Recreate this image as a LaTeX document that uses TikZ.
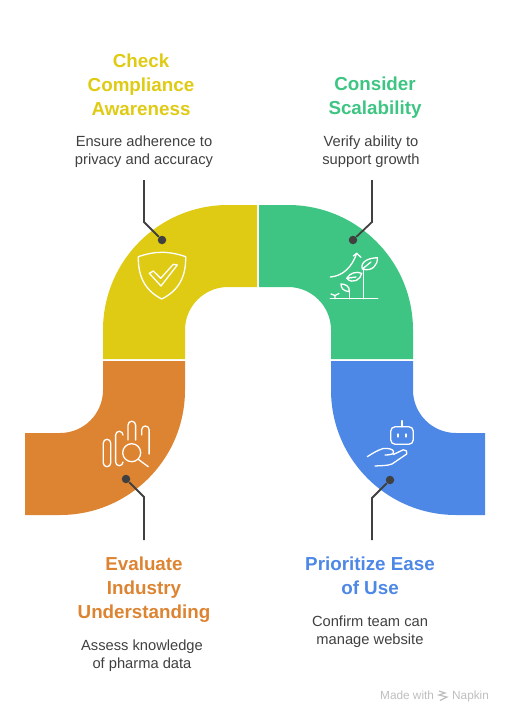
\documentclass[tikz,border=0pt]{standalone}
\usepackage{fontspec}
\setmainfont{Liberation Sans}
\usetikzlibrary{positioning}
\definecolor{capyellow}{RGB}{223,203,20}
\definecolor{capgreen}{RGB}{62,197,131}
\definecolor{caporange}{RGB}{221,132,50}
\definecolor{capblue}{RGB}{77,136,230}
\definecolor{inkgray}{RGB}{64,64,64}
\definecolor{markgray}{RGB}{190,190,190}
\begin{document}
\begin{tikzpicture}[x=1pt, y=-1pt,
  title/.style={align=center, inner sep=0pt, font=\bfseries\fontsize{18.8}{24}\selectfont},
  desc/.style={align=center, inner sep=0pt, text=inkgray, font=\fontsize{14.7}{18}\selectfont},
  dot/.style={circle, fill=inkgray, inner sep=0pt, minimum size=8.5pt},
  lead/.style={draw=inkgray, line width=1.8pt},
  icon/.style={draw=white, line width=1.3pt, line cap=round, line join=round},
  foot/.style={inner sep=0pt, text=markgray, font=\fontsize{11.8}{13}\selectfont}]
\useasboundingbox (0,0) rectangle (510,720);
\fill[capyellow] (257,205) -- (228,205) arc[start angle=90, end angle=180, radius=125pt] -- (103,359) -- (185,359) -- (185,330) arc[start angle=180, end angle=90, radius=43pt] -- (257,287) -- cycle;
\fill[capgreen] (259,205) -- (288,205) arc[start angle=90, end angle=0, radius=125pt] -- (413,359) -- (331,359) -- (331,330) arc[start angle=0, end angle=90, radius=43pt] -- (259,287) -- cycle;
\fill[caporange] (103,361) -- (103,390) arc[start angle=0, end angle=-90, radius=43pt] -- (25,433) -- (25,515) -- (60,515) arc[start angle=-90, end angle=0, radius=125pt] -- (185,361) -- cycle;
\fill[capblue] (413,361) -- (413,390) arc[start angle=180, end angle=270, radius=43pt] -- (485,433) -- (485,515) -- (456,515) arc[start angle=270, end angle=180, radius=125pt] -- (331,361) -- cycle;
% titles and texts
\node[title, text=capyellow] (check) at (141,85) {Check\\Compliance\\Awareness};
\node[desc, below=20pt of check, xshift=3pt] (checktxt) {Ensure adherence to\\privacy and accuracy};
\node[title, text=capgreen] (scale) at (375,97.5) {Consider\\Scalability};
\node[desc] (scaletxt) at (371,152) {Verify ability to\\support growth};
\node[title, text=caporange] (eval) at (144,590) {Evaluate\\Industry\\Understanding};
\node[desc, below=17pt of eval, xshift=-2pt] (evaltxt) {Assess knowledge\\of pharma data};
\node[title, text=capblue] (ease) at (370,576) {Prioritize Ease\\of Use};
\node[desc] (easetxt) at (370,632) {Confirm team can\\manage website};
% leader lines
\node[dot] (checkdot) at (162,240) {};
\node[dot] (scaledot) at (353,240) {};
\node[dot] (evaldot) at (126,479) {};
\node[dot] (easedot) at (390,480) {};
\coordinate (checktop) at (144,180);
\coordinate (checkbend) at (144,222);
\coordinate (scaletop) at (372,180);
\coordinate (scalebend) at (372,222);
\coordinate (evalend) at (144,540);
\coordinate (evalbend) at (144,497);
\coordinate (easeend) at (372,540);
\coordinate (easebend) at (372,498);
\draw[lead] (checktop) -- (checkbend) -- (checkdot);
\draw[lead] (scaletop) -- (scalebend) -- (scaledot);
\draw[lead] (evalend) -- (evalbend) -- (evaldot);
\draw[lead] (easeend) -- (easebend) -- (easedot);
% shield
\draw[icon] (138.3,256.7) .. controls (146,254) and (154,252.3) .. (161.7,252.3) .. controls (170,252.3) and (178,254) .. (185.7,256.7) .. controls (186,275) and (180,290) .. (161.7,299) .. controls (144,290) and (138,275) .. (138.3,256.7) -- cycle;
\draw[icon] (149.3,273.3) -- (153.3,271) -- (160.7,278.3) -- (173.3,264.3) -- (177.3,265) -- (161,286) -- cycle;
% plants
\draw[icon] (330.3,298.7) -- (377.7,298.7);
\draw[icon] (330.3,277) .. controls (343,276) and (352,267) .. (356.7,253.3);
\draw[icon] (353.3,256) -- (356.7,253.3) -- (361,257.3);
\draw[icon] (363.7,298.7) -- (363.7,270);
\draw[icon] (362.3,269) .. controls (360,262) and (368,258) .. (377.3,257.7) .. controls (378,265) and (372,272) .. (362.3,269) -- (371,262);
\draw[icon] (346.7,278.3) .. controls (350,273) and (356,271) .. (361.7,273.3) .. controls (361,279) and (353,285) .. (346.7,278.3) -- (356,277);
\draw[icon] (349.3,298.7) -- (349.3,291.7);
\draw[icon] (349.3,291.7) .. controls (343,291) and (341,288) .. (341,284) .. controls (345,284) and (350,286) .. (349.3,291.7);
\draw[icon] (335,298.7) -- (335,295.5) (331,294) -- (335,295.5) -- (339,293.5);
% bars and lens
\draw[icon] (103.3,443) arc[start angle=180, end angle=0, radius=3.7pt] -- (110.7,463) arc[start angle=0, end angle=-180, radius=3.7pt] -- cycle;
\draw[icon] (123,435) arc[start angle=0, end angle=180, radius=3.7pt] -- (115.6,462) arc[start angle=180, end angle=360, radius=3.7pt];
\draw[icon] (128,440) -- (128,425) arc[start angle=180, end angle=0, radius=3.8pt] -- (135.6,440);
\draw[icon] (141.7,435) -- (141.7,429.7) arc[start angle=180, end angle=0, radius=3.7pt] -- (149.1,454);
\draw[icon] (131.7,452.7) circle[radius=9pt];
\draw[icon] (138.5,459.5) -- (148.3,466.7);
% robot and hand
\draw[icon, rounded corners=4.5pt] (390.7,426.7) rectangle (413.3,444.3);
\draw[icon] (402,420.7) -- (402,426.7);
\draw[icon] (398,434) -- (398,437);
\draw[icon] (406,434) -- (406,437);
\draw[icon] (367.3,456.7) .. controls (373,453) and (378,450) .. (383.3,448.5) .. controls (388,448) and (393,449) .. (393.5,451.5) .. controls (394,454) and (391,455) .. (385,455);
\draw[icon] (393.3,454.5) -- (403.3,449.8) .. controls (406,449) and (408,452) .. (406.7,454) -- (392,464) .. controls (387,466) and (380,465.5) .. (375,466);
% footer
\node[foot, anchor=base west] (made) at (380,699.5) {Made with};
\node[foot, anchor=base west] (napkin) at (452,699.5) {Napkin};
\draw[markgray, line width=1.2pt] (439,691) -- (445,693) -- (439,695) -- (447,697) -- (440,700.5);
\end{tikzpicture}
\end{document}
